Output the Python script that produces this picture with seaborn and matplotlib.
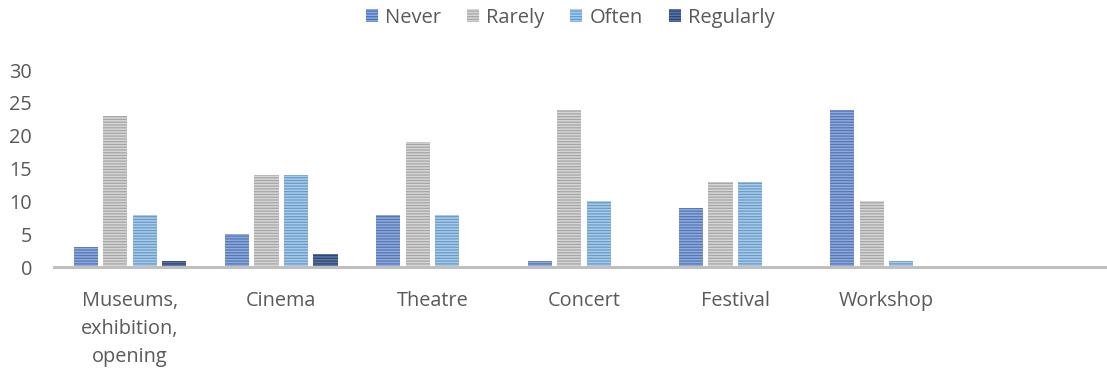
import matplotlib
matplotlib.use("Agg")
import matplotlib.pyplot as plt
import seaborn as sns
import pandas as pd
from matplotlib.patches import Patch

categories = ["Museums,\nexhibition,\nopening", "Cinema", "Theatre", "Concert", "Festival", "Workshop"]
series = ["Never", "Rarely", "Often", "Regularly"]
never = [3, 5, 8, 1, 9, 24]
rarely = [23, 14, 19, 24, 13, 10]
often = [8, 14, 8, 10, 13, 1]
regularly = [1, 2, 0, 0, 0, 0]

base_colors = ["#4472C4", "#A5A5A5", "#5B9BD5", "#264478"]
stripe_colors = ["#8FAADC", "#D6D6D6", "#A9CBEA", "#5A75A8"]

rows = []
for name, vals in zip(series, [never, rarely, often, regularly]):
    for cat, v in zip(categories, vals):
        rows.append({"category": cat, "series": name, "value": v})
df = pd.DataFrame(rows)

sns.set_style("white")
plt.rcParams["font.family"] = ["Open Sans", "DejaVu Sans"]
plt.rcParams["hatch.linewidth"] = 1.1

fig = plt.figure(figsize=(11.07, 3.73), dpi=100)
ax = fig.add_axes([0.049, 0.284, 0.957, 0.528])

sns.barplot(data=df, x="category", y="value", hue="series", order=categories,
            hue_order=series, palette=base_colors, width=0.78, gap=0.18,
            linewidth=0, ax=ax, legend=False)

# horizontal stripe texture on each bar
for container, stripe in zip(ax.containers, stripe_colors):
    for bar in container:
        bar.set_hatch("------")
        bar.set_edgecolor(stripe)
        bar.set_linewidth(0)

ax.set_xlim(-0.5, 6.5)
ax.set_ylim(0, 30)
ax.set_yticks([0, 5, 10, 15, 20, 25, 30])
ax.set_xlabel("")
ax.set_ylabel("")

text_color = "#595959"
ax.tick_params(axis="y", length=0, pad=16, labelsize=14.3, labelcolor=text_color)
ax.tick_params(axis="x", length=0, pad=17, labelsize=14.3, labelcolor=text_color)
for lbl in ax.get_xticklabels():
    lbl.set_linespacing(1.55)
    lbl.set_verticalalignment("top")

for side in ["top", "right", "left"]:
    ax.spines[side].set_visible(False)
ax.spines["bottom"].set_color("#BFBFBF")
ax.spines["bottom"].set_linewidth(2.2)

handles = [Patch(facecolor=c, edgecolor=s, hatch="------", linewidth=0)
           for c, s in zip(base_colors, stripe_colors)]
fig.legend(handles, series, loc="center", bbox_to_anchor=(0.515, 0.952), ncol=4,
           frameon=False, fontsize=14.5, labelcolor=text_color,
           handlelength=0.6, handleheight=0.6, handletextpad=0.35, columnspacing=1.3)

fig.savefig("out.png", dpi=100)
